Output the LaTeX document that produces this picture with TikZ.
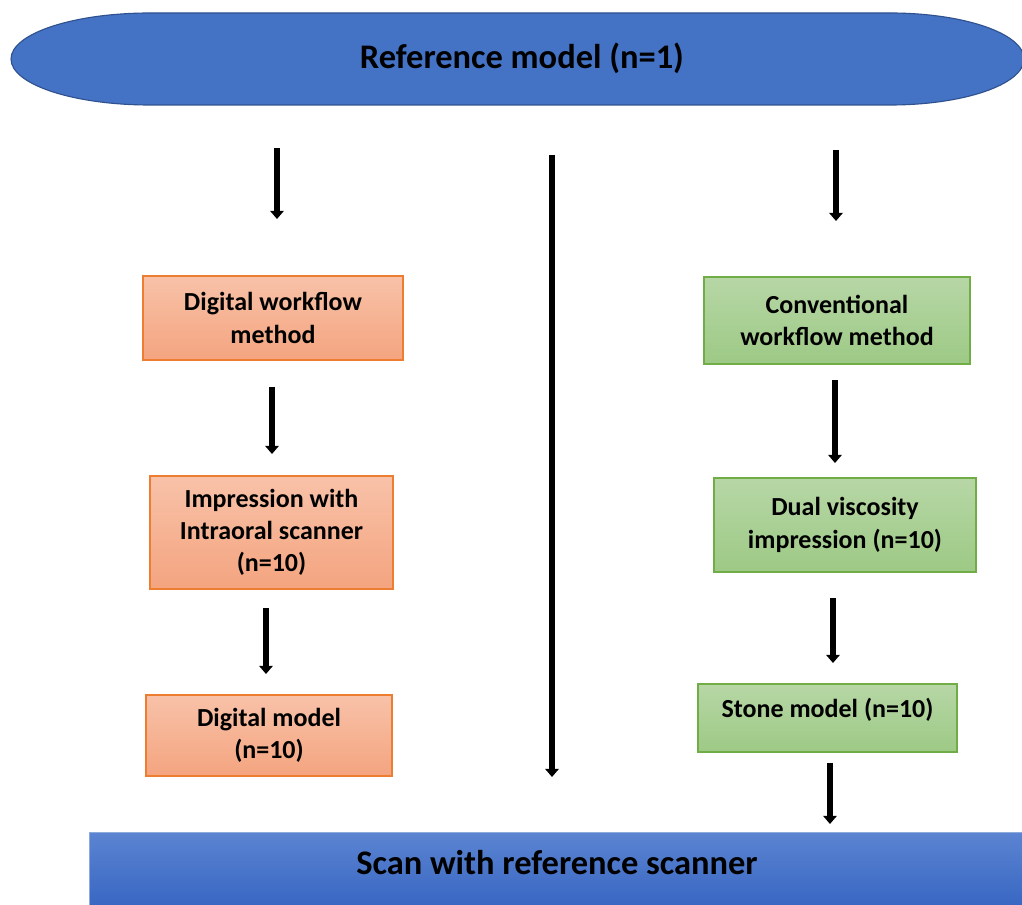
\documentclass[tikz,border=0pt]{standalone}
\usepackage{fontspec}
\setmainfont{Carlito}
\usetikzlibrary{arrows.meta}
\definecolor{refblue}{HTML}{4472C4}
\definecolor{refline}{HTML}{2F528F}
\definecolor{scantop}{HTML}{5B84D1}
\definecolor{scanbot}{HTML}{3564C1}
\definecolor{scanline}{HTML}{8EA9DB}
\definecolor{orgtop}{HTML}{F8C2A9}
\definecolor{orgbot}{HTML}{F4A47F}
\definecolor{orgline}{HTML}{ED7D31}
\definecolor{grntop}{HTML}{B7D7A6}
\definecolor{grnbot}{HTML}{9DC985}
\definecolor{grnline}{HTML}{70AD47}
\newcommand{\boxfont}{\bfseries\fontsize{18.5}{23}\selectfont}
\newcommand{\headfont}{\bfseries\fontsize{24.5}{29}\selectfont}
\tikzset{
  dig/.style={rectangle, draw=orgline, line width=0.8pt, top color=orgtop,
              bottom color=orgbot, font=\boxfont, align=center, inner sep=2pt},
  con/.style={rectangle, draw=grnline, line width=0.8pt, top color=grntop,
              bottom color=grnbot, font=\boxfont, align=center, inner sep=2pt},
  ed/.style={-{Triangle[length=2mm,width=3.3mm]}, line width=3.6pt}
}

\begin{document}
\begin{tikzpicture}[x=0.025cm,y=0.025cm]
\clip (0,0) rectangle (1022,-905);
\fill[white] (0,0) rectangle (1022,-905);
% top terminator
\draw[fill=refblue, draw=refline, line width=0.8pt]
  (150,-13) -- (890,-13) arc[start angle=90, end angle=-90, x radius=134, y radius=46]
  -- (150,-105) arc[start angle=270, end angle=90, x radius=139, y radius=46] -- cycle;
\node[font=\headfont] (ref) at (522,-58) {Reference model (n=1)};
% bottom bar
\node[rectangle, draw=scanline, line width=0.8pt, top color=scantop, bottom color=scanbot,
      font=\headfont, minimum width=23.35cm, minimum height=2cm, text depth=14pt,
      anchor=north] (scan) at (557,-832) {Scan with reference scanner};
% digital branch
\node[dig, minimum width=6.5cm, minimum height=2.1cm] (D1) at (273,-318)
  {Digital workflow\\method};
\node[dig, minimum width=6.075cm, minimum height=2.825cm] (D2) at (271.5,-532.5)
  {Impression with\\Intraoral scanner\\(n=10)};
\node[dig, minimum width=6.15cm, minimum height=2.025cm] (D3) at (269,-735.5)
  {Digital model\\(n=10)};
% conventional branch
\node[con, minimum width=6.65cm, minimum height=2.175cm] (C1) at (837,-320.5)
  {Conventional\\workflow method};
\node[con, minimum width=6.55cm, minimum height=2.35cm] (C2) at (845,-525)
  {Dual viscosity\\impression (n=10)};
\node[con, minimum width=6.475cm, minimum height=1.7cm, text depth=14pt] (C3) at (827.5,-718)
  {Stone model (n=10)};
% arrow ends
\coordinate (a1) at (277,-148);
\coordinate (a2) at (277,-219);
\coordinate (b1) at (836,-150);
\coordinate (b2) at (836,-221);
\coordinate (m1) at (552,-155);
\coordinate (m2) at (552,-777);
\coordinate (d1) at (272,-387);
\coordinate (d2) at (272,-454);
\coordinate (e1) at (835,-380);
\coordinate (e2) at (835,-463);
\coordinate (f1) at (266,-608);
\coordinate (f2) at (266,-674);
\coordinate (g1) at (833,-598);
\coordinate (g2) at (833,-663);
\coordinate (h1) at (830,-763);
\coordinate (h2) at (830,-824);
\draw[ed] (a1) -- (a2);
\draw[ed] (b1) -- (b2);
\draw[ed] (m1) -- (m2);
\draw[ed] (d1) -- (d2);
\draw[ed] (e1) -- (e2);
\draw[ed] (f1) -- (f2);
\draw[ed] (g1) -- (g2);
\draw[ed] (h1) -- (h2);
\end{tikzpicture}
\end{document}
